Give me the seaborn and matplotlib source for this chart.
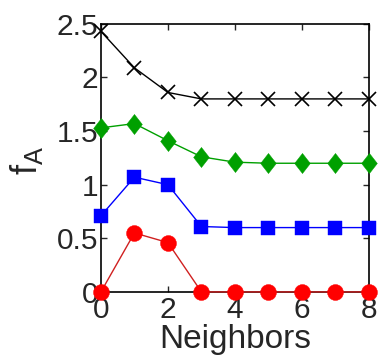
import matplotlib
matplotlib.use("Agg")
import matplotlib.pyplot as plt
import seaborn as sns
import pandas as pd
from matplotlib.path import Path

neighbors = [0, 1, 2, 3, 4, 5, 6, 7, 8]
black_vals = [2.43, 2.09, 1.86, 1.80, 1.80, 1.80, 1.80, 1.80, 1.80]
green_vals = [1.53, 1.57, 1.41, 1.26, 1.21, 1.20, 1.20, 1.20, 1.20]
blue_vals = [0.71, 1.07, 1.00, 0.61, 0.60, 0.60, 0.60, 0.60, 0.60]
red_vals = [0.00, 0.55, 0.46, 0.00, 0.00, 0.00, 0.00, 0.00, 0.00]
x_ticks = [0, 2, 4, 6, 8]
y_ticks = [0, 0.5, 1, 1.5, 2, 2.5]
y_tick_labels = ["0", "0.5", "1", "1.5", "2", "2.5"]

sns.set_style("ticks")
plt.rcParams['font.family'] = ['Liberation Sans', 'DejaVu Sans']
plt.rcParams['mathtext.fontset'] = 'custom'
plt.rcParams['mathtext.rm'] = 'Liberation Sans'
plt.rcParams['mathtext.it'] = 'Liberation Sans'

fig = plt.figure(figsize=(3.78, 3.56), dpi=100)
ax = fig.add_axes([0.267, 0.18, 0.709, 0.753])

diamond = Path([(0, 1), (0.78, 0), (0, -1), (-0.78, 0), (0, 1)],
               [Path.MOVETO, Path.LINETO, Path.LINETO, Path.LINETO, Path.CLOSEPOLY])

series = [
    (black_vals, "black", "x", 9.5, "black"),
    (green_vals, "#00a000", diamond, 14.5, "#00a000"),
    (blue_vals, "#0000ff", "s", 10.5, "#0000ff"),
    (red_vals, "#d02020", "o", 11.5, "#ff0000"),
]
for vals, lc, mk, ms, mc in series:
    df = pd.DataFrame({"Neighbors": neighbors, "f": vals})
    sns.lineplot(data=df, x="Neighbors", y="f", ax=ax, color=lc, linewidth=1.0,
                 marker=mk, markersize=ms, markerfacecolor=mc, markeredgecolor=mc,
                 markeredgewidth=1.2 if isinstance(mk, str) and mk == "x" else 0.3,
                 clip_on=False, zorder=3)

ax.set_xlim(0, 8)
ax.set_ylim(0, 2.5)
ax.set_xticks(x_ticks)
ax.set_yticks(y_ticks)
ax.set_yticklabels(y_tick_labels)
ax.tick_params(direction="in", length=4.5, width=1, labelsize=21.5,
               top=True, right=True)
ax.tick_params(axis="x", pad=3)
ax.tick_params(axis="y", pad=2)
for s in ax.spines.values():
    s.set_linewidth(1.2)
    s.set_color("black")
ax.set_xlabel("Neighbors", fontsize=24, labelpad=0)
ax.set_ylabel(r"f$_\mathregular{A}$", fontsize=26)
ax.yaxis.set_label_coords(-0.21, 0.49)
fig.savefig("out.png", dpi=100)
